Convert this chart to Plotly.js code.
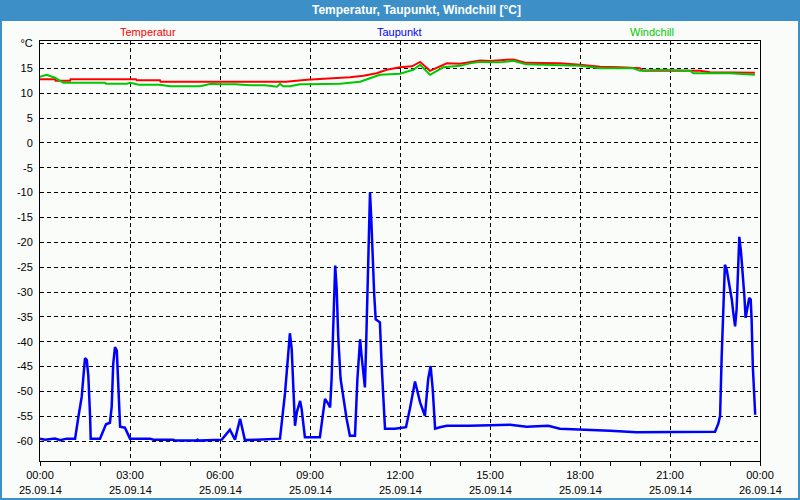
<!DOCTYPE html>
<html>
<head>
<meta charset="utf-8">
<script src="https://cdn.plot.ly/plotly-3.0.1.min.js"></script>
<style>
  body { margin: 0; background: #fafcfa; }
  #chart { width: 800px; height: 500px; }
</style>
</head>
<body>
<div id="chart"></div>
<script>
// hours since 25.09.14 00:00
let tempTime = [0, 0.5, 0.52, 1.0, 1.02, 3.2, 3.22, 4.0, 4.02, 8.2, 8.9, 9.67, 10.33, 10.78, 11.22, 11.56, 12.0, 12.4, 12.67, 13.0, 13.33, 13.56, 14.0, 14.33, 14.67, 15.0, 15.78, 16.2, 16.67, 17.33, 18.0, 18.67, 19.33, 20.0, 20.1, 21.0, 22.0, 22.33, 23.0, 23.83];
let tempValues = [12.8, 12.8, 12.5, 12.5, 12.8, 12.8, 12.6, 12.6, 12.3, 12.3, 12.7, 12.9, 13.2, 13.5, 14.0, 14.7, 15.2, 15.4, 16.3, 14.5, 15.4, 16.0, 15.9, 16.3, 16.6, 16.5, 16.8, 16.1, 16.0, 16.0, 15.7, 15.3, 15.2, 15.0, 14.5, 14.5, 14.5, 14.2, 14.2, 14.1];

let chillTime = [0, 0.22, 0.5, 0.78, 2.17, 2.2, 2.9, 3.0, 3.3, 4.0, 4.33, 5.33, 5.7, 6.0, 6.5, 7.0, 7.5, 7.9, 8.0, 8.1, 8.33, 8.67, 9.0, 10.0, 10.33, 10.67, 11.0, 11.33, 12.0, 12.44, 12.67, 13.0, 13.44, 14.0, 14.33, 14.67, 15.33, 15.78, 16.2, 16.67, 18.0, 18.67, 19.78, 20.0, 20.67, 21.67, 21.78, 23.0, 23.83];
let chillValues = [13.3, 13.7, 13.1, 12.1, 12.1, 11.9, 11.9, 12.1, 11.7, 11.7, 11.4, 11.4, 11.9, 11.8, 11.8, 11.6, 11.6, 11.3, 11.9, 11.4, 11.4, 11.8, 11.8, 11.9, 12.1, 12.3, 13.0, 13.7, 13.9, 14.7, 15.7, 13.7, 15.2, 15.5, 16.0, 16.3, 16.2, 16.5, 15.8, 15.7, 15.5, 15.0, 15.0, 14.5, 14.7, 14.5, 14.0, 14.0, 13.7];

let dewTime = [0, 0.17, 0.5, 0.67, 0.89, 1.17, 1.28, 1.39, 1.44, 1.5, 1.56, 1.61, 1.67, 1.69, 2.0, 2.11, 2.2, 2.33, 2.39, 2.44, 2.5, 2.56, 2.61, 2.67, 2.83, 3.0, 3.67, 3.78, 4.44, 4.5, 5.2, 5.25, 5.3, 6.06, 6.33, 6.5, 6.67, 6.83, 7.22, 8.0,
    8.17, 8.28, 8.33, 8.39, 8.44, 8.5, 8.56, 8.67, 8.72, 8.78, 8.83, 9.33, 9.42, 9.5, 9.61, 9.67, 9.72, 9.78, 9.81, 9.84, 9.89, 9.94, 10.02, 10.11, 10.22, 10.33, 10.5, 10.58, 10.67, 10.72, 10.78, 10.83, 10.87, 10.91, 10.96, 11.0, 11.04, 11.09, 11.14, 11.19, 11.33, 11.39, 11.5, 11.83,
    12.2, 12.33, 12.5, 12.67, 12.83, 12.94, 13.02, 13.09, 13.17, 13.33, 13.56, 14.33, 15.67, 16.22, 16.94, 17.33, 18.33, 19.0, 19.89, 22.5,
    22.61, 22.67, 22.72, 22.76, 22.79, 22.83, 22.89, 22.94, 23.0, 23.06, 23.11, 23.17, 23.22, 23.27, 23.31, 23.37, 23.42, 23.48, 23.52, 23.58, 23.64, 23.69, 23.72, 23.76, 23.8, 23.84];
let dewValues = [-59.5, -59.7, -59.5, -59.8, -59.5, -59.5, -55.1, -51.1, -47.5, -43.3, -43.7, -46.8, -55.1, -59.5, -59.5, -57.8, -56.6, -56.3, -53.1, -44.5, -41.1, -41.8, -47.5, -57.1, -57.3, -59.5, -59.5, -59.7, -59.7, -59.9, -59.9, -59.7, -59.9, -59.7, -57.7, -59.7, -55.5, -59.8, -59.7, -59.5,
    -50.2, -42.9, -38.3, -41.5, -49.5, -56.9, -54.2, -51.9, -53.5, -56.2, -59.2, -59.2, -54.9, -51.5, -52.5, -53.2, -47.5, -36.2, -30.2, -24.7, -29.5, -38.9, -47.5, -51.5, -55.5, -58.9, -58.9, -47.5, -39.5, -42.9, -46.2, -49.2, -40.9, -32.9, -18.2, -10.0, -14.9, -24.9, -30.5, -35.5, -36.1, -44.9, -57.5, -57.5,
    -57.2, -53.5, -48.0, -52.2, -54.9, -47.5, -44.9, -49.5, -57.5, -57.2, -56.9, -56.9, -56.7, -57.1, -56.9, -57.5, -57.7, -57.9, -58.2, -58.1,
    -56.5, -54.9, -43.5, -37.2, -30.9, -24.5, -25.5, -27.2, -28.9, -31.5, -34.2, -36.9, -33.5, -26.2, -18.9, -22.2, -25.5, -30.9, -35.2, -33.2, -31.2, -31.5, -35.5, -44.9, -50.2, -54.7];

let xTickVals = [0, 3, 6, 9, 12, 15, 18, 21, 24];
let xTickTimes = ['00:00', '03:00', '06:00', '09:00', '12:00', '15:00', '18:00', '21:00', '00:00'];
let xTickDates = ['25.09.14', '25.09.14', '25.09.14', '25.09.14', '25.09.14', '25.09.14', '25.09.14', '25.09.14', '26.09.14'];
let yTickVals = [-60, -55, -50, -45, -40, -35, -30, -25, -20, -15, -10, -5, 0, 5, 10, 15, 20];
let yTickText = ['-60', '-55', '-50', '-45', '-40', '-35', '-30', '-25', '-20', '-15', '-10', '-5', '0', '5', '10', '15', '°C'];

let seriesNames = ['Temperatur', 'Taupunkt', 'Windchill'];
let seriesColors = ['#ff0000', '#0000ff', '#00c800'];

const FONT = 'Liberation Sans, Arial, sans-serif';

let traces = [
    {x: tempTime, y: tempValues, name: seriesNames[0], mode: 'lines', line: {color: seriesColors[0], width: 2}},
    {x: chillTime, y: chillValues, name: seriesNames[2], mode: 'lines', line: {color: seriesColors[2], width: 2}},
    {x: dewTime, y: dewValues, name: seriesNames[1], mode: 'lines', line: {color: seriesColors[1], width: 2.5}}
];

// plot area is 720 x 420 px, paper coords for the frame around it
let pxX = px => (px - 40) / 720;
let pxY = py => 1 + (41 - py) / 420;

let annotations = [];
// title in header bar
annotations.push({
    text: '<b>Temperatur, Taupunkt, Windchill [°C]</b>',
    xref: 'paper', yref: 'paper', x: pxX(416), y: pxY(10), xanchor: 'center', yanchor: 'middle',
    showarrow: false, font: {family: FONT, size: 12, color: '#ffffff'}
});
// series labels
let labelX = [148, 399, 652];
seriesNames.forEach((name, i) => {
    annotations.push({
        text: name, xref: 'paper', yref: 'paper', x: pxX(labelX[i]), y: pxY(32), xanchor: 'center', yanchor: 'middle',
        showarrow: false, font: {family: FONT, size: 11, color: seriesColors[i]}
    });
});
// date line under the time labels
xTickVals.forEach((v, i) => {
    annotations.push({
        text: xTickDates[i], xref: 'x', yref: 'paper', x: v, y: pxY(490), xanchor: 'center', yanchor: 'middle',
        showarrow: false, font: {family: FONT, size: 11, color: '#000000'}
    });
});

let shapes = [
    // header bar
    {type: 'rect', xref: 'paper', yref: 'paper', x0: pxX(0), x1: pxX(800), y0: pxY(0), y1: pxY(21),
        fillcolor: '#3d8fc7', line: {width: 0}, layer: 'below'},
    // outer frame
    {type: 'line', xref: 'paper', yref: 'paper', x0: pxX(1), x1: pxX(1), y0: pxY(0), y1: pxY(499), line: {color: '#3d8fc7', width: 2}},
    {type: 'line', xref: 'paper', yref: 'paper', x0: pxX(799), x1: pxX(799), y0: pxY(0), y1: pxY(499), line: {color: '#3d8fc7', width: 2}},
    {type: 'line', xref: 'paper', yref: 'paper', x0: pxX(0), x1: pxX(800), y0: pxY(499), y1: pxY(499), line: {color: '#3d8fc7', width: 2}}
];

let layout = {
    width: 800,
    height: 500,
    margin: {l: 40, r: 40, t: 41, b: 39},
    paper_bgcolor: '#fafcfa',
    plot_bgcolor: '#fafcfa',
    showlegend: false,
    font: {family: FONT, size: 11, color: '#000000'},
    xaxis: {
        range: [0, 24],
        tickvals: xTickVals,
        ticktext: xTickTimes,
        ticks: 'outside',
        ticklen: 4,
        tickcolor: '#000000',
        showline: true,
        linecolor: '#000000',
        linewidth: 1,
        mirror: true,
        showgrid: true,
        gridcolor: '#000000',
        griddash: '4px,3px',
        gridwidth: 1,
        zeroline: false,
        minor: {dtick: 1, ticks: 'outside', ticklen: 4, tickcolor: '#000000', showgrid: false},
        tickfont: {family: FONT, size: 11, color: '#000000'}
    },
    yaxis: {
        range: [-64, 20.5],
        tickvals: yTickVals,
        ticktext: yTickText,
        ticks: '',
        ticklabelstandoff: 4,
        showline: true,
        linecolor: '#000000',
        linewidth: 1,
        mirror: true,
        showgrid: true,
        gridcolor: '#000000',
        griddash: '4px,3px',
        gridwidth: 1,
        zeroline: false,
        tickfont: {family: FONT, size: 11, color: '#000000'}
    },
    annotations: annotations,
    shapes: shapes
};

Plotly.newPlot('chart', traces, layout, {staticPlot: true});
</script>
</body>
</html>
